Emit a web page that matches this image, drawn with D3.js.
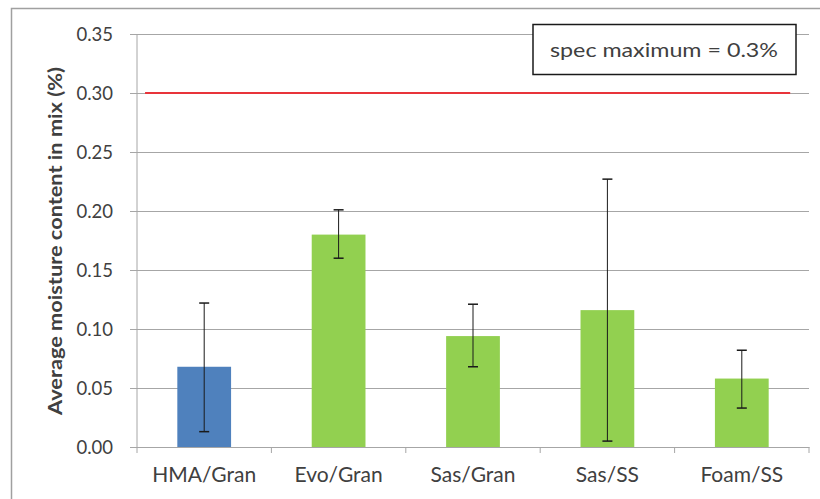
<!DOCTYPE html>
<html>
<head>
<meta charset="utf-8">
<script src="https://cdn.jsdelivr.net/npm/d3@7"></script>
<style>
  body { margin: 0; background: #fff; }
  text { font-family: Lato, "Open Sans", sans-serif; fill: #404040; }
</style>
</head>
<body>
<div id="chart"></div>
<script>
(function () {

  // Data
  const categories = ["HMA/Gran", "Evo/Gran", "Sas/Gran", "Sas/SS", "Foam/SS"];
  const means = [0.068, 0.180, 0.094, 0.116, 0.058];
  const errLow = [0.013, 0.160, 0.068, 0.005, 0.033];
  const errHigh = [0.122, 0.201, 0.121, 0.227, 0.082];
  const barColors = ["#4f81bd", "#92d050", "#92d050", "#92d050", "#92d050"];
  const yTicks = [0, 0.05, 0.10, 0.15, 0.20, 0.25, 0.30, 0.35];
  const specMax = 0.30;
  const specLabel = "spec maximum = 0.3%";

  const W = 820, H = 499;
  const margin = { top: 34, right: 11, bottom: 52, left: 137 },
        width = W - margin.left - margin.right,
        height = H - margin.top - margin.bottom;

  const svg = d3.select("#chart")
    .append("svg")
    .attr("width", W)
    .attr("height", H);

  // outer chart frame
  svg.append("rect")
    .attr("x", 11.5)
    .attr("y", 8.5)
    .attr("width", W)
    .attr("height", H)
    .attr("fill", "none")
    .attr("stroke", "#a0a0a0")
    .attr("stroke-width", 1.5);

  const g = svg.append("g")
    .attr("transform", `translate(${margin.left},${margin.top})`);

  const x = d3.scaleBand()
    .domain(categories)
    .range([0, width])
    .paddingInner(0.6)
    .paddingOuter(0.3);

  const y = d3.scaleLinear()
    .domain([0, 0.35])
    .range([height, 0]);

  // gridlines + y axis
  const yAxis = g.append("g")
    .call(d3.axisLeft(y).tickValues(yTicks).tickFormat(d3.format(".2f"))
      .tickSize(-width - 7).tickSizeOuter(0));
  yAxis.select(".domain").remove();
  yAxis.selectAll(".tick line")
    .attr("x1", -7)
    .attr("x2", width)
    .attr("stroke", "#a6a6a6");
  yAxis.selectAll(".tick text")
    .attr("x", -24)
    .attr("dy", "0.36em")
    .style("font-size", "18.5px")
    .style("font-family", "Lato, sans-serif")
    .attr("fill", "#404040");

  g.append("line")
    .attr("x1", 0).attr("x2", 0)
    .attr("y1", 0).attr("y2", height)
    .attr("stroke", "#a6a6a6");

  // x axis with ticks at category boundaries
  const xAxis = g.append("g")
    .attr("transform", `translate(0,${height})`)
    .call(d3.axisBottom(x).tickSize(0));
  xAxis.select(".domain").attr("stroke", "#a6a6a6");
  xAxis.selectAll(".tick text")
    .attr("y", 35)
    .attr("dy", 0)
    .style("font-size", "21px")
    .style("font-family", "Lato, sans-serif")
    .attr("fill", "#404040");

  const bounds = d3.range(categories.length + 1).map(i => i * width / categories.length);
  g.selectAll(".xtick")
    .data(bounds)
    .enter()
    .append("line")
    .attr("x1", d => d).attr("x2", d => d)
    .attr("y1", height).attr("y2", height + 6)
    .attr("stroke", "#a6a6a6");

  // bars
  g.selectAll(".bar")
    .data(means)
    .enter()
    .append("rect")
    .attr("x", (d, i) => x(categories[i]))
    .attr("y", d => y(d))
    .attr("width", x.bandwidth())
    .attr("height", d => height - y(d))
    .attr("fill", (d, i) => barColors[i]);

  // error bars
  const eb = g.selectAll(".err")
    .data(categories)
    .enter()
    .append("g")
    .attr("transform", d => `translate(${x(d) + x.bandwidth() / 2},0)`);
  eb.append("line")
    .attr("y1", (d, i) => y(errLow[i]))
    .attr("y2", (d, i) => y(errHigh[i]))
    .attr("stroke", "#1a1a1a");
  eb.append("line")
    .attr("x1", -5).attr("x2", 5)
    .attr("y1", (d, i) => y(errHigh[i]))
    .attr("y2", (d, i) => y(errHigh[i]))
    .attr("stroke", "#1a1a1a")
    .attr("stroke-width", 1.5);
  eb.append("line")
    .attr("x1", -5).attr("x2", 5)
    .attr("y1", (d, i) => y(errLow[i]))
    .attr("y2", (d, i) => y(errLow[i]))
    .attr("stroke", "#1a1a1a")
    .attr("stroke-width", 1.5);

  // spec maximum line
  const xs = d3.scaleLinear().domain([0, categories.length]).range([0, width]);
  g.append("line")
    .attr("x1", xs(0.06))
    .attr("x2", xs(4.86))
    .attr("y1", y(specMax))
    .attr("y2", y(specMax))
    .attr("stroke", "#e8343a")
    .attr("stroke-width", 2);

  // label box
  g.append("rect")
    .attr("x", 396)
    .attr("y", -9.5)
    .attr("width", 263)
    .attr("height", 50)
    .attr("fill", "#fff")
    .attr("stroke", "#1a1a1a")
    .attr("stroke-width", 1.5);
  g.append("text")
    .attr("x", 527)
    .attr("y", 23)
    .attr("text-anchor", "middle")
    .attr("textLength", 228)
    .attr("lengthAdjust", "spacingAndGlyphs")
    .style("font-size", "20px")
    .text(specLabel);

  // y axis title
  svg.append("text")
    .attr("transform", "rotate(-90)")
    .attr("x", -241)
    .attr("y", 55)
    .attr("dy", "0.35em")
    .attr("text-anchor", "middle")
    .attr("textLength", 348)
    .attr("lengthAdjust", "spacingAndGlyphs")
    .style("font-size", "19px")
    .style("font-weight", "bold")
    .attr("fill", "#1a1a1a")
    .text("Average moisture content in mix (%)");

})();
</script>
</body>
</html>
